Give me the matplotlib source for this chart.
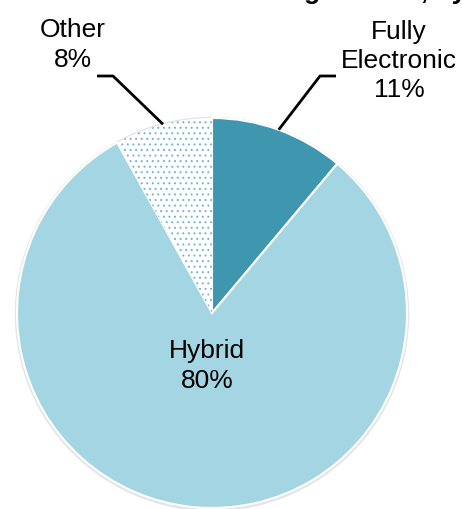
import numpy as np
import matplotlib.pyplot as plt

# share of trading, by type
labels = ["Fully\nElectronic", "Hybrid", "Other"]
shares = [11, 80, 8]
colors = ["#3e97ae", "#a4d5e3", "white"]

plt.rcParams['font.family'] = ['Liberation Sans', 'DejaVu Sans']
plt.rcParams['hatch.linewidth'] = 0.7

W, H = 462, 510
fig = plt.figure(figsize=(W / 100, H / 100), dpi=100)
ax = fig.add_axes([0, 0, 1, 1])

cx, cy, r = 212, H - 314, 195

# faint rim shadow
ax.add_patch(plt.Circle((cx, cy - 1), r + 1.5, color='#e4e4e4', zorder=0))

wedges, _ = ax.pie(shares, colors=colors, startangle=90, counterclock=False,
                   center=(cx, cy), radius=r, frame=True,
                   wedgeprops=dict(edgecolor='white', linewidth=1.5))
ax.set_xlim(0, W)
ax.set_ylim(0, H)
ax.set_aspect('equal')
ax.axis('off')

# dotted fill for "Other"
wedges[2].set_hatch('...')
wedges[2].set_edgecolor('#6fb5cc')
wedges[2].set_linewidth(0)

fs = 19
ls = 1.27
ax.text(cx - 5, H - 366, f"{labels[1]}\n{shares[1]}%", ha='center', va='center',
        fontsize=fs, linespacing=ls)
ax.text(73, H - 45, f"{labels[2]}\n{shares[2]}%", ha='center', va='center',
        fontsize=fs, linespacing=ls)
ax.text(399, H - 61, f"{labels[0]}\n{shares[0]}%", ha='center', va='center',
        fontsize=fs, linespacing=ls)

# leader lines from the wedge mid angles
def mid_point(w, frac=1.0):
    ang = np.deg2rad((w.theta1 + w.theta2) / 2)
    return cx + frac * r * np.cos(ang), cy + frac * r * np.sin(ang)

x0, y0 = mid_point(wedges[2], 1.0)
ax.plot([97, 113, x0], [H - 77, H - 77, y0], color='black', lw=2, solid_capstyle='butt')
x0, y0 = mid_point(wedges[0], 1.0)
ax.plot([x0, 320, 336], [y0, H - 77, H - 77], color='black', lw=2, solid_capstyle='butt')

# title, mostly cropped off at the top
fig.text(1.01, 1.0 + 1 / H, "Share of Trading Volume, by", ha='right', va='baseline',
         fontsize=fs, fontweight='bold')

fig.savefig("out.png", dpi=100)
